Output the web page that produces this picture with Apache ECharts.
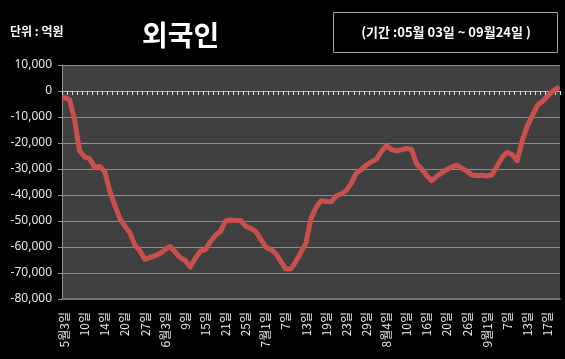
<!DOCTYPE html>
<html>
<head>
<meta charset="utf-8">
<script src="https://cdn.jsdelivr.net/npm/echarts@6/dist/echarts.min.js"></script>
<style>
html,body{margin:0;padding:0;background:#000;}
#chart{width:565px;height:359px;}
</style>
</head>
<body>
<div id="chart"></div>
<script>
// trading days (M/D), 2010-05-03 .. 2010-09-24
var dates = [
 '5/3','5/4','5/6','5/7','5/10','5/11','5/12','5/13','5/14','5/17','5/18','5/19','5/20','5/24','5/25','5/26','5/27','5/28','5/31',
 '6/1','6/3','6/4','6/7','6/8','6/9','6/10','6/11','6/14','6/15','6/16','6/17','6/18','6/21','6/22','6/23','6/24','6/25','6/28','6/29','6/30',
 '7/1','7/2','7/5','7/6','7/7','7/8','7/9','7/12','7/13','7/14','7/15','7/16','7/19','7/20','7/21','7/22','7/23','7/26','7/27','7/28','7/29','7/30',
 '8/2','8/3','8/4','8/5','8/6','8/9','8/10','8/11','8/12','8/13','8/16','8/17','8/18','8/19','8/20','8/23','8/24','8/25','8/26','8/27','8/30','8/31',
 '9/1','9/2','9/3','9/6','9/7','9/8','9/9','9/10','9/13','9/14','9/15','9/16','9/17','9/20','9/24'
];
// cumulative foreign net buying (억원)
var foreignNet = [
 -2600, -3200, -11000, -23000, -25300, -26000, -29400, -29000, -31000, -38500,
 -44000, -49000, -52000, -54500, -59300, -61500, -64800, -64000, -63300, -62500,
 -61000, -59800, -62000, -64100, -65200, -67700, -64400, -61600, -61000, -58000,
 -55500, -54000, -50000, -49600, -49800, -49800, -52000, -52800, -54000, -57000,
 -60000, -61000, -62500, -65500, -68500, -68400, -65500, -62000, -58500, -49000,
 -44800, -42200, -42500, -42600, -40400, -39600, -38300, -35500, -31600, -30200,
 -28500, -27200, -26200, -23300, -21000, -22500, -23000, -22600, -22100, -22500,
 -28000, -30000, -32500, -34500, -32800, -31500, -30200, -29200, -28500, -29800,
 -30800, -32300, -32500, -32400, -32700, -32200, -28800, -25500, -23600, -24500,
 -26800, -19000, -13500, -9500, -5500, -4000, -2000, -200, 1200
];
var yMin = -80000, yMax = 10000, yStep = 10000;
var titleText = '외국인';
var unitText = '단위 : 억원';
var periodText = '(기간 :05월 03일 ~ 09월24일 )';

function commas(v){
  var s = Math.abs(v).toString().replace(/\B(?=(\d{3})+(?!\d))/g, ',');
  return (v < 0 ? '-' : '') + s;
}
function dateLabel(value, index){
  var p = value.split('/');
  var prev = index >= 4 ? dates[index-4].split('/')[0] : null;
  if (index === 0 || prev !== p[0]) return p[0] + '월' + p[1] + '일';
  return p[1] + '일';
}

var FONT = '"Noto Sans CJK KR", "Noto Sans", sans-serif';
var chart = echarts.init(document.getElementById('chart'), null, {renderer:'canvas'});
chart.setOption({
  backgroundColor: '#000',
  animation: false,
  grid: {left:62, right:5, top:65, bottom:60, show:true, backgroundColor:'#404040', borderWidth:0},
  graphic: [
    {type:'text', left:10, top:25, style:{text:unitText, fill:'#fff', font:'bold 12px ' + FONT}},
    {type:'text', left:142, top:21, style:{text:titleText, fill:'#fff', font:'bold 28px ' + FONT}},
    {type:'rect', shape:{x:333.5, y:12.5, width:224, height:40}, style:{fill:'none', stroke:'#a0a0a0', lineWidth:1}},
    {type:'text', x:446, y:32, style:{text:periodText, fill:'#fff', font:'bold 13px ' + FONT, align:'center', verticalAlign:'middle'}}
  ],
  xAxis: [
    {type:'category', data:dates, boundaryGap:true, gridIndex:0,
     axisLine:{show:true, onZero:true, lineStyle:{color:'#b0b0b0', width:1}},
     axisTick:{show:true, interval:0, length:4, lineStyle:{color:'#e0e0e0'}},
     axisLabel:{show:false}, splitLine:{show:false}},
    {type:'category', data:dates, boundaryGap:true, gridIndex:0, position:'bottom',
     axisLine:{show:true, onZero:false, lineStyle:{color:'#707070', width:2}},
     axisTick:{show:false},
     axisLabel:{show:true, interval:3, rotate:90, margin:13, color:'#e8e8e8', fontSize:12, fontFamily:FONT,
       formatter:dateLabel},
     splitLine:{show:false}}
  ],
  yAxis: {type:'value', min:yMin, max:yMax, interval:yStep,
    axisLine:{show:true, lineStyle:{color:'#909090'}},
    axisTick:{show:true, length:4, lineStyle:{color:'#909090'}},
    axisLabel:{color:'#e8e8e8', fontSize:12, margin:10, fontFamily:'"Noto Sans", sans-serif', formatter:commas},
    splitLine:{show:true, lineStyle:{color:'#8c8c8c', width:1}}
  },
  series: [{type:'line', xAxisIndex:0, data:foreignNet, symbol:'none', smooth:false,
    lineStyle:{color:'#c9504c', width:5, join:'round', cap:'round'}}]
});
</script>
</body>
</html>
